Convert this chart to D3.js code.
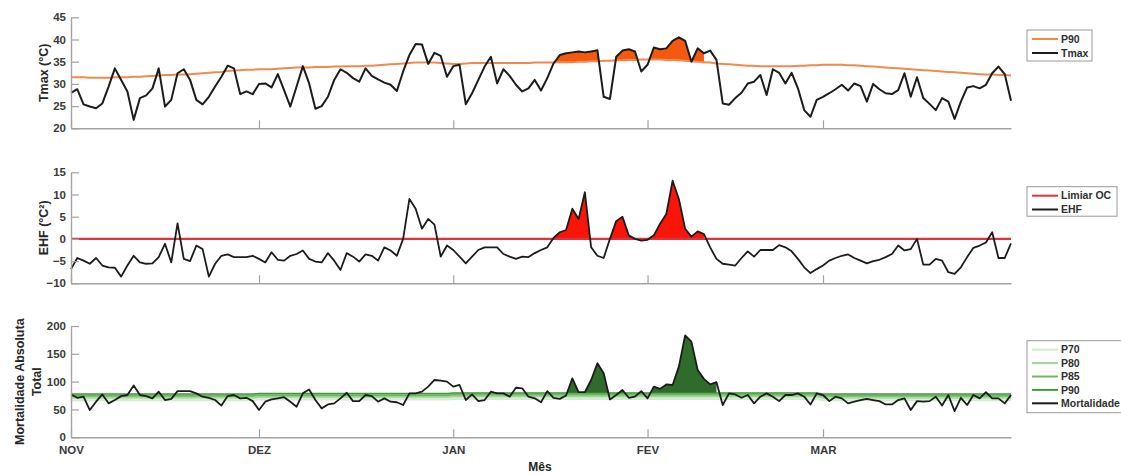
<!DOCTYPE html>
<html><head><meta charset="utf-8">
<script src="https://cdn.jsdelivr.net/npm/d3@7"></script>
<style>
html,body{margin:0;padding:0;background:#fff;}
svg text{font-family:"Liberation Sans",Arial,sans-serif;font-weight:bold;}
</style></head><body>
<svg id="chart" width="1121" height="475"></svg>
<script>
// ---------- DATA ----------
const months = ["NOV","DEZ","JAN","FEV","MAR"];
const monthStartDays = [0,30,61,92,120];

const tmax = [
28,28.8,25.4,24.9,24.5,25.6,29.4,33.5,30.9,28.3,
21.9,26.8,27.4,29,33.5,24.9,26.4,32.4,33.3,30.9,
26.4,25.4,27.1,29.4,31.6,34.1,33.5,27.7,28.3,27.7,
30,30.1,29.2,32.2,28.6,24.9,29.4,34,30.1,24.4,
25,27.1,30.9,33.3,32.5,31.3,30.5,33.5,31.8,31,
30.3,29.8,28.4,32.8,36.5,39,38.9,34.5,37,36.3,
31.6,34,34.3,25.4,27.9,30.9,33.9,36.1,30.1,33.3,
31.8,29.8,28.3,29,30.9,28.5,31.3,34.6,36.5,36.9,
37.1,37.3,37.1,37.3,37.6,27.1,26.6,36.1,37.5,37.8,
37.3,32.8,34.3,38.2,37.8,38,39.7,40.5,39.7,35,
38,36.9,37.5,35.4,25.6,25.3,26.8,28,30.1,30.5,
32,27.5,33.3,32.5,30.1,32.5,29,24.1,22.6,26.4,
27.1,27.9,28.8,29.8,28.5,30.1,29.5,26,30,28.8,
27.9,27.7,28.6,32.4,27.1,31.5,26.8,25.5,24.1,26.8,
26,22.1,26,29.2,29.5,29,29.8,32.4,33.9,32.2,
26.2];

const tmaxP90 = [
31.5,31.5,31.5,31.4,31.4,31.4,31.4,31.5,31.5,31.5,
31.6,31.6,31.7,31.8,31.9,32.0,32.0,32.1,32.1,32.2,
32.3,32.4,32.5,32.6,32.7,32.9,33.0,33.1,33.2,33.2,
33.3,33.3,33.3,33.4,33.5,33.6,33.7,33.7,33.7,33.8,
33.8,33.8,33.9,33.9,34.0,34.0,34.0,34.1,34.1,34.2,
34.3,34.4,34.5,34.6,34.7,34.8,34.8,34.8,34.8,34.7,
34.6,34.5,34.5,34.6,34.7,34.7,34.7,34.7,34.7,34.7,
34.7,34.7,34.7,34.7,34.8,34.8,34.8,34.8,34.9,34.9,
34.9,35.0,35.0,35.1,35.1,35.2,35.2,35.3,35.3,35.4,
35.4,35.5,35.5,35.5,35.5,35.4,35.4,35.3,35.2,35.1,
35.0,34.9,34.8,34.6,34.5,34.4,34.3,34.2,34.1,34.1,
34.0,34.0,34.0,34.0,34.0,34.0,34.1,34.1,34.2,34.2,
34.3,34.3,34.3,34.3,34.2,34.2,34.1,34.0,33.9,33.8,
33.7,33.6,33.5,33.4,33.3,33.2,33.1,33.0,32.9,32.8,
32.7,32.6,32.5,32.4,32.3,32.2,32.1,32.1,32.0,32.0,
31.9];

const ehf = [
-6.8,-4.3,-4.9,-5.6,-4.3,-6,-6.4,-6.5,-8.5,-6,
-3.8,-5.3,-5.6,-5.5,-4.1,-1.1,-5.3,3.5,-4.5,-5,
-1.5,-2.3,-8.5,-5.6,-3.8,-3.5,-4.1,-4.1,-4.1,-3.8,
-4.5,-5.3,-3,-4.7,-4.9,-3.8,-3.4,-2.6,-4.5,-5.1,
-5.3,-3.2,-4.9,-7,-3.2,-4,-5.1,-3.5,-3.8,-4.9,
-1.9,-2.6,-3.8,0,9,6.8,2.3,4.5,3.2,-4,
-1.5,-2.5,-4,-5.5,-4,-2.5,-1.9,-1.9,-1.9,-3.4,
-4,-4.5,-4,-4.1,-3.2,-2.5,-1.9,0.2,1.5,2,
6.8,4.5,10.5,-1.9,-3.8,-4.3,0,4,5,0.8,
0,-0.4,-0.2,0.8,3.4,5.6,13.1,9,2.3,0.5,
1.7,1.1,-1.9,-4.5,-5.6,-5.8,-6,-4.3,-2.8,-4,
-2.5,-2.5,-2.5,-1.4,-1.9,-2.8,-4.5,-6.4,-7.7,-6.8,
-6,-4.9,-4.3,-3.8,-3.5,-4.3,-4.9,-5.5,-5,-4.7,
-4.1,-3.4,-1.5,-2.6,-2.3,0,-5.8,-5.8,-4.5,-4.9,
-7.5,-7.9,-6.4,-4.1,-2,-1.5,-0.8,1.5,-4.3,-4.3,
-1];
const ehfThreshold = 0;

const mortality = [
77,71,73,49,64,77,61,67,74,76,
93,76,74,70,82,67,69,83,83,83,
79,73,71,67,57,74,76,70,71,65,
49,64,68,70,72,64,55,79,86,67,
52,59,61,70,80,65,65,76,74,64,
70,64,63,58,79,79,82,91,103,102,
100,91,94,67,77,65,67,82,79,79,
73,89,88,73,70,63,83,71,69,75,
106,81,81,103,133,115,68,76,85,71,
73,83,70,91,87,95,94,127,183,172,
121,105,95,99,58,79,77,71,76,61,
73,79,73,65,76,76,79,73,59,79,
76,65,73,70,61,64,67,69,67,65,
59,59,67,70,49,65,64,65,73,57,
76,47,71,58,76,70,81,70,70,61,
76];

// monthly mortality percentile thresholds (NOV..MAR)
const mortP70 = [66,67,68,68,66];
const mortP80 = [71,72,73,73,71];
const mortP85 = [74,75,76,76,74];
const mortP90 = [78,79,80,80,78];

const heatwaveTemp = [77,101];
const heatwaveMort = [76,103];

const tmaxTicks = [20,25,30,35,40,45];
const ehfTicks = [-10,-5,0,5,10,15];
const mortTicks = [0,50,100,150,200];

// ---------- CHART ----------
const svg = d3.select("#chart");
const defs = svg.append("defs");
const days = d3.range(tmax.length);
const x = d3.scaleLinear().domain([0,150]).range([71,1011]);
const monthIdx = d => d3.bisectRight(monthStartDays, d) - 1;

const AX = "#a3a3a3", TXT = "#3b3b3b";

function styleAxis(g){
  g.select(".domain").attr("stroke",AX).attr("stroke-width",1.4);
  g.selectAll(".tick line").attr("stroke",AX).attr("stroke-width",1.2);
  g.selectAll(".tick text").attr("fill",TXT).style("font-size","11.5px");
}
function drawAxes(y, ticks, withMonths){
  const gy = svg.append("g").attr("transform","translate(71,0)")
    .call(d3.axisLeft(y).tickValues(ticks).tickSizeInner(-8).tickSizeOuter(0).tickPadding(5));
  styleAxis(gy);
  const gx = svg.append("g").attr("transform",`translate(0,${y.range()[0]})`)
    .call(d3.axisBottom(x).tickValues(monthStartDays).tickSizeInner(-8).tickSizeOuter(0).tickPadding(8.5)
      .tickFormat((d,i)=> withMonths ? months[i] : ""));
  styleAxis(gx);
  gx.selectAll(".tick text").style("font-size","11.5px");
}
function clipRect(id, range){
  defs.append("clipPath").attr("id",id).append("rect")
    .attr("x",x(range[0])).attr("y",0).attr("width",x(range[1])-x(range[0])).attr("height",475);
}
function clipUnder(id, y, vals){
  defs.append("clipPath").attr("id",id).append("path")
    .attr("d", d3.area().x(i=>x(i)).y0(y.range()[0]+5).y1(i=>y(vals[i]))(days));
}

// ----- Top panel: Tmax -----
const yT = d3.scaleLinear().domain([20,45]).range([128.3,17.3]);
clipRect("hwT", heatwaveTemp);
clipUnder("underT", yT, tmax);
svg.append("g").attr("clip-path","url(#hwT)").append("path")
  .attr("clip-path","url(#underT)")
  .attr("d", d3.area().x(i=>x(i)).y0(i=>yT(tmaxP90[i])).y1(yT.range()[1])(days))
  .attr("fill","#f5580f");
svg.append("path").attr("d", d3.line().x(i=>x(i)).y(i=>yT(tmaxP90[i]))(days))
  .attr("fill","none").attr("stroke","#f28a50").attr("stroke-width",2);
svg.append("path").attr("d", d3.line().x(i=>x(i)).y(i=>yT(tmax[i]))(days))
  .attr("fill","none").attr("stroke","#1c1c1c").attr("stroke-width",2).attr("stroke-linejoin","round");
drawAxes(yT, tmaxTicks, false);

// ----- Middle panel: EHF -----
const yE = d3.scaleLinear().domain([-10,15]).range([283.3,172.3]);
clipUnder("underE", yE, ehf);
svg.append("g").attr("clip-path","url(#hwT)").append("path")
  .attr("clip-path","url(#underE)")
  .attr("d", d3.area().x(i=>x(i)).y0(yE(ehfThreshold)).y1(yE.range()[1])(days))
  .attr("fill","#fb1408");
svg.append("line").attr("x1",x(0)).attr("x2",x(150)).attr("y1",yE(ehfThreshold)).attr("y2",yE(ehfThreshold))
  .attr("stroke","#e3313a").attr("stroke-width",2.4);
svg.append("path").attr("d", d3.line().x(i=>x(i)).y(i=>yE(ehf[i]))(days))
  .attr("fill","none").attr("stroke","#1c1c1c").attr("stroke-width",1.8).attr("stroke-linejoin","round");
drawAxes(yE, ehfTicks, false);

// ----- Bottom panel: Mortality -----
const yM = d3.scaleLinear().domain([0,200]).range([437.3,326]);
const pv = (arr,i) => arr[monthIdx(i)];
const bands = [
  {lo:mortP70, hi:mortP80, fill:"#d7efd2"},
  {lo:mortP80, hi:mortP85, fill:"#a9d9a0"},
  {lo:mortP85, hi:mortP90, fill:"#72bb68"}
];
bands.forEach(b=>{
  svg.append("path").attr("d", d3.area().x(i=>x(i)).y0(i=>yM(pv(b.lo,i))).y1(i=>yM(pv(b.hi,i)))(days))
    .attr("fill",b.fill);
});
const pLines = [
  {arr:mortP70, c:"#d3ebcf"},{arr:mortP80, c:"#a2d49a"},{arr:mortP85, c:"#6fb964"},{arr:mortP90, c:"#46963f"}
];
pLines.forEach(p=>{
  svg.append("path").attr("d", d3.line().x(i=>x(i)).y(i=>yM(pv(p.arr,i)))(days))
    .attr("fill","none").attr("stroke",p.c).attr("stroke-width",1.2);
});
clipRect("hwM", heatwaveMort);
clipUnder("underM", yM, mortality);
svg.append("g").attr("clip-path","url(#hwM)").append("path")
  .attr("clip-path","url(#underM)")
  .attr("d", d3.area().x(i=>x(i)).y0(i=>yM(pv(mortP90,i))).y1(yM.range()[1]-20)(days))
  .attr("fill","#2f6b2b");
svg.append("path").attr("d", d3.line().x(i=>x(i)).y(i=>yM(mortality[i]))(days))
  .attr("fill","none").attr("stroke","#1c1c1c").attr("stroke-width",1.8).attr("stroke-linejoin","round");
drawAxes(yM, mortTicks, true);

// ----- Axis labels -----
function vLabel(txt, cx, cy){
  svg.append("text").attr("transform",`translate(${cx},${cy}) rotate(-90)`)
    .attr("text-anchor","middle").attr("dominant-baseline","central")
    .attr("fill","#262626").style("font-size","12.5px").text(txt);
}
vLabel("Tmax (°C)", 44, 72.8);
vLabel("EHF (°C²)", 44, 227.8);
vLabel("Mortalidade Absoluta", 19.5, 381.7);
vLabel("Total", 36.7, 381.7);
svg.append("text").attr("x",540).attr("y",470.5).attr("text-anchor","middle")
  .attr("fill","#262626").style("font-size","12px").text("Mês");

// ----- Legends -----
function legend(x0, y0, w, h, items, step){
  svg.append("rect").attr("x",x0).attr("y",y0).attr("width",w).attr("height",h)
    .attr("fill","#fff").attr("stroke","#9a9a9a").attr("stroke-width",1);
  items.forEach((it,k)=>{
    const yy = y0 + 9 + k*step;
    svg.append("line").attr("x1",x0+5).attr("x2",x0+31).attr("y1",yy).attr("y2",yy)
      .attr("stroke",it.c).attr("stroke-width",it.w||2);
    svg.append("text").attr("x",x0+34).attr("y",yy).attr("dy","0.35em")
      .attr("fill","#303030").style("font-size","10.5px").text(it.t);
  });
}
legend(1027, 30, 65, 31, [{t:"P90",c:"#f28a50"},{t:"Tmax",c:"#1c1c1c"}], 14);
legend(1027, 186.7, 90, 29.5, [{t:"Limiar OC",c:"#e3313a"},{t:"EHF",c:"#1c1c1c"}], 13.8);
legend(1027, 340.7, 100, 72, [
  {t:"P70",c:"#d3ebcf"},{t:"P80",c:"#a2d49a"},{t:"P85",c:"#6fb964"},{t:"P90",c:"#46963f"},{t:"Mortalidade",c:"#1c1c1c"}
], 13.4);
</script>
</body></html>
